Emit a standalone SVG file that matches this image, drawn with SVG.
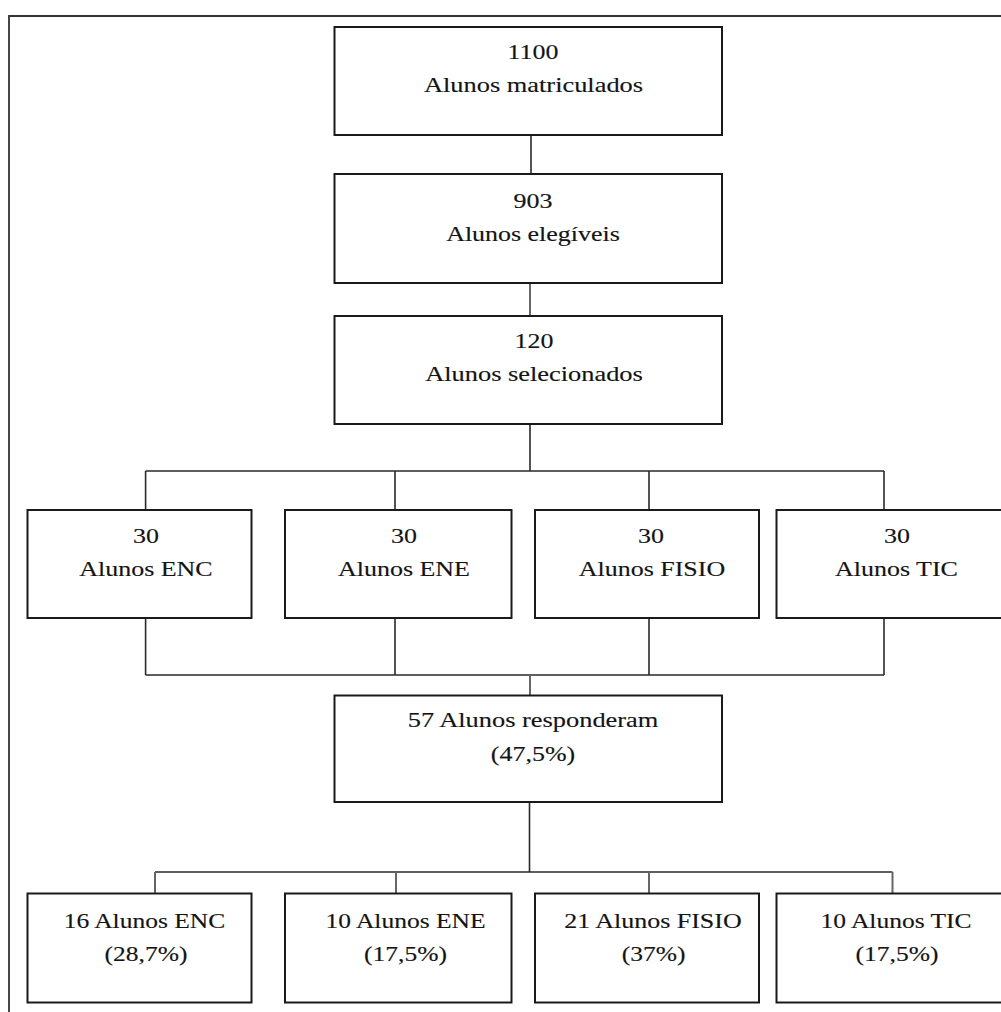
<svg xmlns="http://www.w3.org/2000/svg" width="1001" height="1012" viewBox="0 0 1001 1012">
<style>
.box{fill:#fff;stroke:#1a1a1a;stroke-width:2}
.t{font-family:"Liberation Serif","Times New Roman",serif;font-size:22px;fill:#141414;stroke:#141414;stroke-width:0.15;text-anchor:middle}
.c{fill:none;stroke:#2a2a2a;stroke-width:1.6}
.g{fill:none;stroke:#666;stroke-width:2}
.frame{fill:none;stroke:#333;stroke-width:1.8}
</style>
<rect width="1001" height="1012" fill="#fff"/>
<path class="frame" d="M9,1012 V16 H1001"/>
<g id="connectors">
<path class="c" d="M531,135 V174"/>
<path class="g" d="M530,283 V316"/>
<path class="c" d="M530,424 V471 M145.6,471 H884 M145.6,471 V510 M395,471 V510 M649,471 V510 M884,471 V510"/>
<path class="c" d="M145.6,618 V675 M395,618 V675 M649,618 V675 M884,618 V675 M145.6,675 H884"/>
<path class="g" d="M530,675 V695.5"/>
<path class="c" d="M529.5,802 V872 M155,872 H892.5"/>
<path class="g" d="M155,872 V893.5 M396,872 V893.5 M649,872 V893.5 M892.5,872 V893.5"/>
</g>
<g id="n1"><rect class="box" x="334.5" y="27" width="387.5" height="108"/>
<text class="t" transform="matrix(1.18 0 0 1 533 0)" y="59">1100</text>
<text class="t" transform="matrix(1.2 0 0 1 533.5 0)" y="92">Alunos matriculados</text></g>
<g id="n2"><rect class="box" x="334.5" y="174" width="387.5" height="109"/>
<text class="t" transform="matrix(1.18 0 0 1 533 0)" y="208">903</text>
<text class="t" transform="matrix(1.18 0 0 1 533 0)" y="241">Alunos elegíveis</text></g>
<g id="n3"><rect class="box" x="334.5" y="316" width="387.5" height="108"/>
<text class="t" transform="matrix(1.18 0 0 1 534 0)" y="348">120</text>
<text class="t" transform="matrix(1.2 0 0 1 534 0)" y="381">Alunos selecionados</text></g>
<g id="n4"><rect class="box" x="27.5" y="510" width="224" height="108"/>
<text class="t" transform="matrix(1.18 0 0 1 146 0)" y="543">30</text>
<text class="t" transform="matrix(1.18 0 0 1 146 0)" y="576">Alunos ENC</text></g>
<g id="n5"><rect class="box" x="285" y="510" width="226.5" height="108"/>
<text class="t" transform="matrix(1.18 0 0 1 404 0)" y="543">30</text>
<text class="t" transform="matrix(1.18 0 0 1 404 0)" y="576">Alunos ENE</text></g>
<g id="n6"><rect class="box" x="535" y="510" width="224" height="108"/>
<text class="t" transform="matrix(1.18 0 0 1 651 0)" y="543">30</text>
<text class="t" transform="matrix(1.18 0 0 1 652 0)" y="576">Alunos FISIO</text></g>
<g id="n7"><rect class="box" x="776.5" y="510" width="240" height="108"/>
<text class="t" transform="matrix(1.18 0 0 1 897 0)" y="543">30</text>
<text class="t" transform="matrix(1.18 0 0 1 896.5 0)" y="576">Alunos TIC</text></g>
<g id="n8"><rect class="box" x="334.5" y="695.5" width="387.5" height="106.5"/>
<text class="t" transform="matrix(1.2 0 0 1 533 0)" y="727">57 Alunos responderam</text>
<text class="t" transform="matrix(1.18 0 0 1 533 0)" y="761">(47,5%)</text></g>
<g id="n9"><rect class="box" x="27.5" y="893.5" width="224" height="109"/>
<text class="t" transform="matrix(1.16 0 0 1 144.5 0)" y="928">16 Alunos ENC</text>
<text class="t" transform="matrix(1.16 0 0 1 146 0)" y="961">(28,7%)</text></g>
<g id="n10"><rect class="box" x="285" y="893.5" width="226.5" height="109"/>
<text class="t" transform="matrix(1.16 0 0 1 405.5 0)" y="928">10 Alunos ENE</text>
<text class="t" transform="matrix(1.16 0 0 1 405.5 0)" y="961">(17,5%)</text></g>
<g id="n11"><rect class="box" x="535" y="893.5" width="224" height="109"/>
<text class="t" transform="matrix(1.18 0 0 1 653 0)" y="928">21 Alunos FISIO</text>
<text class="t" transform="matrix(1.16 0 0 1 653.5 0)" y="961">(37%)</text></g>
<g id="n12"><rect class="box" x="776.5" y="893.5" width="240" height="109"/>
<text class="t" transform="matrix(1.16 0 0 1 896 0)" y="928">10 Alunos TIC</text>
<text class="t" transform="matrix(1.16 0 0 1 897 0)" y="961">(17,5%)</text></g>
</svg>
